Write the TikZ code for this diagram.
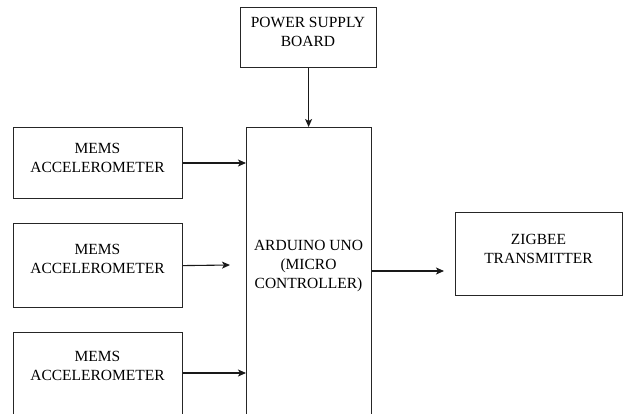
\documentclass[tikz,border=0pt]{standalone}
\usepackage{fontspec}
\setmainfont{Liberation Serif}
\usetikzlibrary{arrows.meta}
\begin{document}
\begin{tikzpicture}[x=1pt,y=-1pt,
  box/.style={draw=black!85, line width=1.2pt, inner sep=0pt, anchor=north west},
  lbl/.style={align=center, font=\fontsize{15.5}{19}\selectfont, inner sep=0pt, text=black},
  conn/.style={draw=black!90, line width=1.1pt, -{Stealth[length=8pt,width=7pt,inset=2pt]}}]
\useasboundingbox (0,0) rectangle (624,414);
\clip (0,0) rectangle (624,414);
% boxes
\node[box, minimum width=136pt, minimum height=60pt] (psb) at (240,7) {};
\node[box, minimum width=125pt, minimum height=330pt] (ard) at (246,127) {};
\node[box, minimum width=169pt, minimum height=71pt] (m1) at (13,127) {};
\node[box, minimum width=169pt, minimum height=84pt] (m2) at (13,223) {};
\node[box, minimum width=169pt, minimum height=120pt] (m3) at (13,332) {};
\node[box, minimum width=167pt, minimum height=83pt] (zig) at (455,212) {};
% labels
\node[lbl] (psbt) at (308,32) {POWER SUPPLY\\BOARD};
\node[lbl] (m1t) at (97.5,158) {MEMS\\ACCELEROMETER};
\node[lbl] (m2t) at (97.5,259) {MEMS\\ACCELEROMETER};
\node[lbl] (m3t) at (97.5,366) {MEMS\\ACCELEROMETER};
\node[lbl] (ardt) at (308.5,266) {ARDUINO UNO\\(MICRO\\CONTROLLER)};
\node[lbl] (zigt) at (538.5,249) {ZIGBEE\\TRANSMITTER};
% connector end points
\coordinate (m1a) at ([yshift=-36pt]m1.north east);
\coordinate (m3a) at ([yshift=-41pt]m3.north east);
\coordinate (arda) at ([yshift=-144pt]ard.north east);
\coordinate (m2end) at (230,265);
\path (zig.west |- arda) ++(-11,0) coordinate (zige);
% connectors
\draw[conn] (psb.south) -- (psb.south |- ard.north);
\draw[conn] (m1a) -- (ard.west |- m1a);
\draw[conn] (m2.east) -- (m2end);
\draw[conn] (m3a) -- (ard.west |- m3a);
\draw[conn] (arda) -- (zige);
\end{tikzpicture}
\end{document}
